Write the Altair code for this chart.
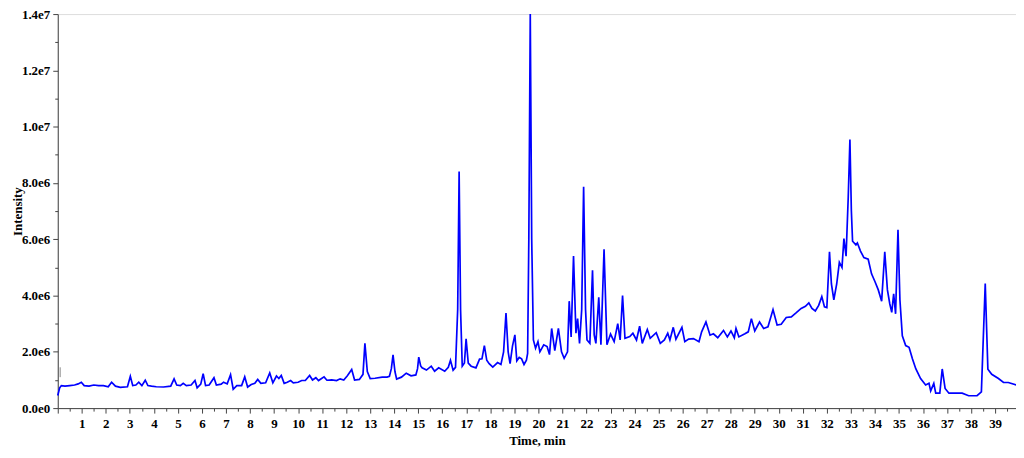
import altair as alt
import pandas as pd

# Retention time (min) and intensity (millions of counts)
time_min = [
    0.00, 0.08, 0.15, 0.3, 0.5, 0.7, 0.85, 0.98, 1.1, 1.3, 1.5, 1.7, 1.9, 2.1, 2.24, 2.4, 2.6, 2.9,
    3.02, 3.12, 3.25, 3.37, 3.5, 3.64, 3.75, 3.9, 4.1, 4.4, 4.7, 4.84, 4.95, 5.1, 5.22, 5.35, 5.55,
    5.71, 5.8, 5.95, 6.05, 6.15, 6.3, 6.5, 6.6, 6.8, 6.9, 7.05, 7.19, 7.3, 7.45, 7.65, 7.78, 7.9,
    8.05, 8.2, 8.32, 8.45, 8.65, 8.82, 8.95, 9.1, 9.2, 9.3, 9.42, 9.55, 9.69, 9.8, 10.0, 10.15,
    10.3, 10.48, 10.6, 10.74, 10.85, 11.08, 11.2, 11.4, 11.6, 11.75, 11.9, 12.05, 12.23, 12.35,
    12.55, 12.7, 12.78, 12.88, 13.0, 13.2, 13.5, 13.7, 13.8, 13.88, 13.95, 14.03, 14.1, 14.3, 14.5,
    14.7, 14.9, 14.97, 15.02, 15.1, 15.16, 15.34, 15.54, 15.68, 15.85, 16.1, 16.25, 16.34, 16.45,
    16.55, 16.64, 16.70, 16.76, 16.83, 16.92, 16.99, 17.08, 17.2, 17.4, 17.55, 17.65, 17.75, 17.85,
    17.95, 18.1, 18.3, 18.44, 18.55, 18.65, 18.74, 18.82, 18.92, 19.02, 19.1, 19.2, 19.3, 19.4,
    19.5, 19.55, 19.60, 19.66, 19.72, 19.79, 19.88, 19.98, 20.06, 20.22, 20.36, 20.46, 20.55,
    20.68, 20.83, 20.96, 21.07, 21.21, 21.28, 21.36, 21.46, 21.56, 21.63, 21.71, 21.8, 21.88,
    21.96, 22.02, 22.14, 22.25, 22.32, 22.39, 22.51, 22.6, 22.73, 22.85, 23.0, 23.15, 23.3, 23.4,
    23.5, 23.6, 23.8, 23.93, 24.08, 24.21, 24.32, 24.53, 24.65, 24.9, 25.07, 25.24, 25.38, 25.47,
    25.61, 25.72, 25.97, 26.09, 26.25, 26.45, 26.68, 26.79, 26.97, 27.14, 27.28, 27.46, 27.7,
    27.86, 28.01, 28.15, 28.22, 28.34, 28.59, 28.73, 28.86, 29.0, 29.2, 29.37, 29.55, 29.76,
    29.93, 30.1, 30.31, 30.52, 30.73, 30.93, 31.11, 31.25, 31.38, 31.52, 31.66, 31.79, 31.9, 32.0,
    32.11, 32.19, 32.29, 32.41, 32.52, 32.63, 32.71, 32.8, 32.89, 32.96, 33.02, 33.07, 33.21,
    33.27, 33.4, 33.54, 33.72, 33.86, 34.0, 34.14, 34.28, 34.41, 34.52, 34.62, 34.7, 34.78, 34.86,
    34.96, 35.04, 35.14, 35.28, 35.42, 35.56, 35.7, 35.9, 36.11, 36.25, 36.32, 36.45, 36.53, 36.7,
    36.8, 36.92, 37.08, 37.35, 37.63, 37.9, 38.25, 38.43, 38.59, 38.7, 38.86, 39.14, 39.35, 39.55,
    39.9,
]
intensity_m = [
    0.45, 0.72, 0.80, 0.78, 0.80, 0.82, 0.86, 0.92, 0.80, 0.78, 0.82, 0.80, 0.80, 0.76, 0.92, 0.78, 0.74, 0.76,
    1.13, 0.80, 0.82, 0.92, 0.80, 0.99, 0.80, 0.78, 0.76, 0.75, 0.78, 1.04, 0.82, 0.80, 0.88, 0.80, 0.82,
    0.98, 0.72, 0.85, 1.22, 0.80, 0.82, 1.08, 0.82, 0.85, 0.92, 0.86, 1.19, 0.67, 0.80, 0.80, 1.11, 0.75,
    0.84, 0.88, 1.02, 0.88, 0.90, 1.25, 0.90, 1.14, 1.05, 1.16, 0.88, 0.92, 0.98, 0.90, 0.92, 0.98,
    0.98, 1.16, 1.00, 1.08, 0.98, 1.11, 0.99, 1.00, 0.98, 1.04, 1.00, 1.15, 1.37, 1.00,
    1.02, 1.20, 2.30, 1.30, 1.05, 1.06, 1.10, 1.10, 1.13, 1.40, 1.89, 1.30, 1.03, 1.10, 1.24,
    1.15, 1.18, 1.40, 1.81, 1.50, 1.43, 1.35, 1.49, 1.31, 1.43, 1.31, 1.45, 1.70, 1.35,
    1.45, 3.50, 8.41, 3.50, 1.49, 1.60, 2.46, 1.60, 1.49, 1.43, 1.74, 1.75, 2.22, 1.70,
    1.58, 1.46, 1.62, 1.55, 2.00, 3.38, 2.00, 1.58, 2.20, 2.60, 1.68, 1.80, 1.75, 1.55,
    1.70, 1.94, 6.00, 14.0, 6.00, 2.42, 2.13, 2.36, 2.00, 2.25, 2.19, 1.90, 2.83,
    2.04, 2.83, 2.00, 1.77, 2.00, 3.80, 2.53, 5.40, 2.66, 3.18, 2.30, 3.50, 7.86,
    3.50, 2.42, 2.30, 4.90, 2.60, 2.30, 3.94, 2.25, 5.64, 2.25, 2.63, 2.36, 3.00, 2.42,
    4.00, 2.48, 2.54, 2.66, 2.42, 2.91, 2.30, 2.79, 2.48, 2.68, 2.30, 2.42, 2.66, 2.42,
    2.87, 2.45, 2.87, 2.36, 2.45, 2.47, 2.36, 2.71, 3.06, 2.59, 2.64, 2.50, 2.76,
    2.53, 2.74, 2.50, 2.83, 2.53, 2.64, 2.71, 3.18, 2.74, 3.06, 2.83, 2.89, 3.50,
    2.95, 2.98, 3.22, 3.24, 3.39, 3.54, 3.62, 3.74, 3.54, 3.45, 3.65, 3.96, 3.60, 3.57,
    5.55, 4.41, 3.85, 4.41, 5.18, 5.00, 6.02, 5.40, 7.50, 9.54, 7.00, 5.93, 5.80,
    5.87, 5.58, 5.35, 5.29, 4.77, 4.50, 4.20, 3.80, 5.55, 4.20, 3.70, 3.40, 4.06, 3.35,
    6.34, 3.85, 2.57, 2.22, 2.16, 1.75, 1.40, 1.05, 0.82, 0.88, 0.61, 0.88, 0.53, 0.53,
    1.39, 0.70, 0.53, 0.53, 0.53, 0.44, 0.44, 0.58, 4.43, 1.38, 1.20, 1.05, 0.91, 0.91,
    0.82,
]
# small start marker drawn by the instrument software
marker_t = [0.1]
marker_lo_m = [1.10]
marker_hi_m = [1.45]

df = pd.DataFrame({"t": time_min, "I": [v * 1e6 for v in intensity_m]})
mk = pd.DataFrame({"t": marker_t, "I": [v * 1e6 for v in marker_lo_m], "hi": [v * 1e6 for v in marker_hi_m]})

FONT = "Liberation Serif"
x_vals = [i * 0.5 for i in range(0, 80)]
y_vals = [i * 1e6 for i in range(0, 15)]

x_scale = alt.Scale(domain=[0, 39.87], nice=False, zero=False)
y_scale = alt.Scale(domain=[0, 1.4e7], nice=False)

x_axis = alt.Axis(values=x_vals, grid=False,
                  labelExpr="datum.value > 0 && datum.value % 1 == 0 ? datum.value : ''",
                  labelPadding=4,
                  tickSize={"condition": {"test": "datum.value % 1 == 0", "value": 5}, "value": 3},
                  titlePadding=5)
y_axis = alt.Axis(values=y_vals, grid=False,
                  labelExpr="datum.value % 2000000 == 0 ? replace(format(datum.value, '.1e'), '+', '') : ''",
                  labelPadding=3,
                  tickSize={"condition": {"test": "datum.value % 2000000 == 0", "value": 5}, "value": 3},
                  titleX=-40, titleY=198, titleBaseline="middle", titleAngle=270)

line = alt.Chart(df).mark_line(color="#0000ff", strokeWidth=1.7, interpolate="linear").encode(
    x=alt.X("t:Q", scale=x_scale, title="Time, min", axis=x_axis),
    y=alt.Y("I:Q", scale=y_scale, title="Intensity", axis=y_axis),
)

marker = alt.Chart(mk).mark_rule(color="#888", strokeWidth=1).encode(
    x=alt.X("t:Q", scale=x_scale, title="Time, min", axis=x_axis),
    y=alt.Y("I:Q", scale=y_scale, title="Intensity", axis=y_axis),
    y2="hi:Q",
)

chart = (line + marker).properties(
    width=963, height=396,
    autosize=alt.AutoSizeParams(type="none"),
    padding={"left": 50, "top": 5, "right": 0, "bottom": 41},
).configure_view(stroke=None).configure(background="white").configure_axis(
    labelFont=FONT, labelFontWeight="bold", labelFontSize=13, labelColor="#000",
    labelFlush=False, labelOverlap=False, labelBound=False,
    tickColor="#444", domainColor="#444", domainWidth=1, tickWidth=1,
    titleFont=FONT, titleFontWeight="bold", titleFontSize=13, titleColor="#000",
)

chart.save("out.html", embed_options={"renderer": "svg", "actions": False})
